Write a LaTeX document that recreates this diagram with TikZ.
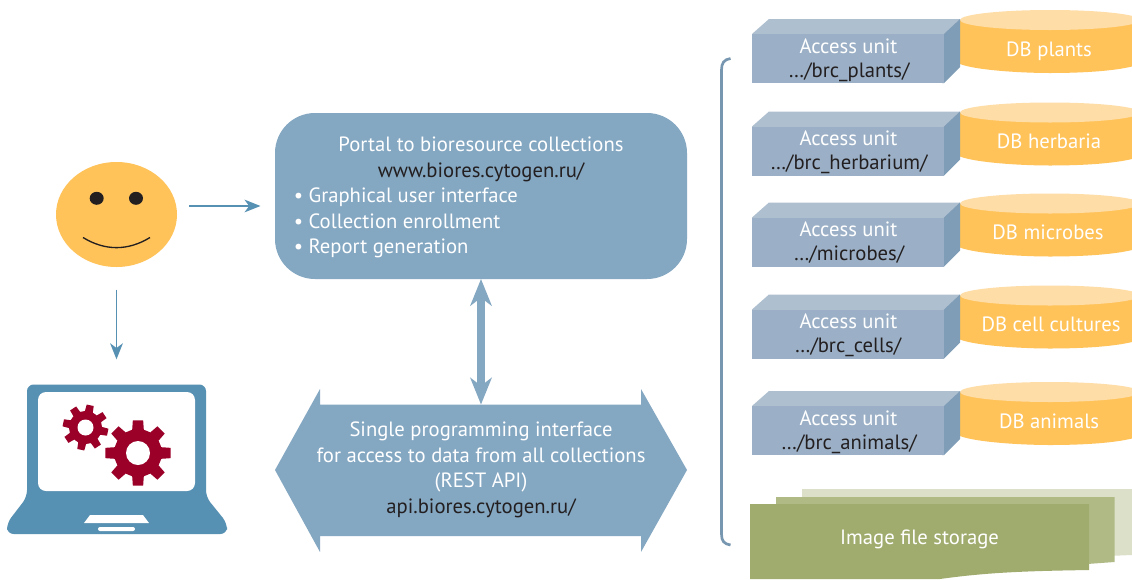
\documentclass[tikz,border=0pt]{standalone}
\usepackage{fontspec}
\setmainfont{PT Sans}
\usetikzlibrary{shapes.geometric,arrows.meta}
\definecolor{txtdark}{HTML}{231F20}
\definecolor{blueA}{HTML}{84A7C2}
\definecolor{blueB}{HTML}{5690B2}
\definecolor{faceC}{HTML}{FFC35A}
\definecolor{dbtop}{HTML}{FFDDA6}
\definecolor{front}{HTML}{9BB0C6}
\definecolor{topf}{HTML}{AEBFD0}
\definecolor{sidef}{HTML}{7F9DB6}
\definecolor{gearc}{HTML}{9B0029}
\definecolor{greenA}{HTML}{A0AC6E}
\definecolor{greenB}{HTML}{B0BA85}
\definecolor{greenC}{HTML}{DDE0C8}
\tikzset{
  x=0.75pt,y=-0.75pt,
  lab/.style={anchor=base,inner sep=0pt,font=\fontsize{15.5}{18}\selectfont},
  wl/.style={lab,text=white},
  dl/.style={lab,text=txtdark},
  thin arrow/.style={draw=blueB,line width=1.1pt,-{Stealth[length=12pt,width=9.5pt,inset=3.5pt]}},
  fat arrow/.style={draw=blueA,line width=6pt,{Stealth[length=20pt,width=16pt,inset=6pt]}-{Stealth[length=20pt,width=16pt,inset=6pt]},shorten <=0pt,shorten >=0pt},
  ghost/.style={inner sep=0pt,outer sep=0pt,draw=none}
}
\newcommand{\mygear}[5]{%
  \fill[gearc,even odd rule]
    ({#1+#4*cos(#5-14)},{#2+#4*sin(#5-14)})
    \foreach \i in {0,...,7}{
      \pgfextra{\pgfmathsetmacro{\a}{\i*45+#5}}
      -- ({#1+#4*cos(\a-14)},{#2+#4*sin(\a-14)})
      -- ({#1+#3*cos(\a-9)},{#2+#3*sin(\a-9)})
      -- ({#1+#3*cos(\a+9)},{#2+#3*sin(\a+9)})
      -- ({#1+#4*cos(\a+14)},{#2+#4*sin(\a+14)})
    } -- cycle;
}
\newcommand{\unitrow}[6]{%
  \begin{scope}[shift={(0,#1)}]
    \fill[faceC] (960,20) -- (960,64) .. controls (975,70) and (1020,73) .. (1050,73)
      .. controls (1090,73) and (1125,70) .. (1140,64) -- (1140,20) -- cycle;
    \node[ellipse,fill=dbtop,ghost,minimum width=135pt,minimum height=15pt] (dbt#2) at (1050,20) {};
    \fill[topf] (752,36) -- (752,34) -- (769,19) -- (960,19) -- (944,36) -- cycle;
    \fill[sidef] (942,36) -- (944,34) -- (960,19) -- (960,67) -- (944,83) -- (942,83) -- cycle;
    \node[rectangle,fill=front,ghost,minimum width=144pt,minimum height=36.75pt] (box#2) at (848,58.5) {};
    \node[wl] (au#2) at (848.5,53) {Access unit};
    \node[dl] (path#2) at (#3,77) {…/#4/};
    \node[wl] (db#2) at (#5,56) {#6};
  \end{scope}
}
\begin{document}
\begin{tikzpicture}
\useasboundingbox (0,0) rectangle (1132,579);
\clip (0,0) rectangle (1132,579);
\fill[white] (0,0) rectangle (1132,579);

% face
\node[ellipse,fill=faceC,ghost,minimum width=90.75pt,minimum height=78.75pt] (face) at (116.5,214.5) {};
\node[ellipse,fill=txtdark,ghost,minimum width=10.5pt,minimum height=9.75pt] (eyeL) at (96.7,198.3) {};
\node[ellipse,fill=txtdark,ghost,minimum width=10.5pt,minimum height=9.75pt] (eyeR) at (136,198.3) {};
\draw[txtdark,line width=1pt] (83,237.5) .. controls (105,251) and (128,251) .. (150,237.5);

% portal
\node[rectangle,rounded corners=30pt,fill=blueA,ghost,minimum width=309pt,minimum height=124.5pt] (portal) at (481,196) {};
\node[wl] (pt1) at (481,151) {Portal to bioresource collections};
\node[dl] (pt2) at (481,177) {www.biores.cytogen.ru/};
\node[wl,anchor=base west] (pt3) at (293.5,202) {• Graphical user interface};
\node[wl,anchor=base west] (pt4) at (293.5,228) {• Collection enrollment};
\node[wl,anchor=base west] (pt5) at (293.5,253) {• Report generation};

% api
\node[rectangle,ghost,minimum width=309pt,minimum height=98.25pt] (api) at (481,470) {};
\fill[blueA] (275,470) -- (320,389) -- (320,404.5) -- (641,404.5) -- (641,389) -- (687,470)
  -- (641,552) -- (641,536) -- (320,536) -- (320,552) -- cycle;
\node[wl] (ap1) at (481,436) {Single programming interface};
\node[wl] (ap2) at (481,462) {for access to data from all collections};
\node[wl] (ap3) at (481,487) {(REST API)};
\node[dl] (ap4) at (481,513) {api.biores.cytogen.ru/};

\draw[fat arrow] (portal.south) -- (api.north);

% laptop
\node[rectangle,ghost,minimum width=165pt,minimum height=112.5pt] (laptop) at (116.5,459) {};
\fill[blueB,rounded corners=5pt] (27,384.5) -- (206,384.5) -- (206,497) -- (227,523) -- (227,534) -- (7,534) -- (7,523) -- (27,497) -- cycle;
\fill[white,rounded corners=6pt] (38,392) rectangle (195,491);
\fill[white] (90,515) -- (143,515) -- (149,523) -- (84,523) -- cycle;
\fill[white,rounded corners=1.5pt] (98,527) rectangle (135,531);
\mygear{85.5}{427.5}{23}{16.5}{12}
\fill[white] (85.5,427.5) circle[radius=8];
\mygear{138}{453}{33}{24}{0}
\fill[white] (138,453) circle[radius=12];

% arrows from face
\coordinate (faceOut) at (189,206);
\coordinate (portalIn) at (260.5,206);
\draw[thin arrow] (faceOut) -- (portalIn);
\draw[thin arrow,shorten <=17pt,shorten >=18.5pt] (face.south) -- (laptop.north);

% bracket
\draw[blueA!90!black,line width=2pt] (730.5,58.5) .. controls (724,59.5) and (721.5,63) .. (721.5,70) -- (721.5,534) .. controls (721.5,541) and (724,544) .. (730.5,545);

% units
\unitrow{0}{1}{849}{brc\_plants}{1049}{DB plants}
\unitrow{92.5}{2}{849}{brc\_herbarium}{1049}{DB herbaria}
\unitrow{183.5}{3}{849}{microbes}{1048}{DB microbes}
\unitrow{275.5}{4}{848}{brc\_cells}{1051}{DB cell cultures}
\unitrow{372}{5}{849}{brc\_animals}{1049}{DB animals}

% image storage
\fill[greenC] (802,489) -- (1132,489) -- (1132,555) -- (1060,558) -- (802,558) -- cycle;
\fill[greenB] (776,497) -- (1114.5,497) -- (1114.5,562) -- (1060,566) -- (776,566) -- cycle;
\fill[greenA] (750,504) -- (1089,504) -- (1089,570) .. controls (1030,571) and (990,572) .. (940,579) -- (750,579) -- cycle;
\node[wl] (img) at (919.5,544) {Image file storage};
\end{tikzpicture}
\end{document}
